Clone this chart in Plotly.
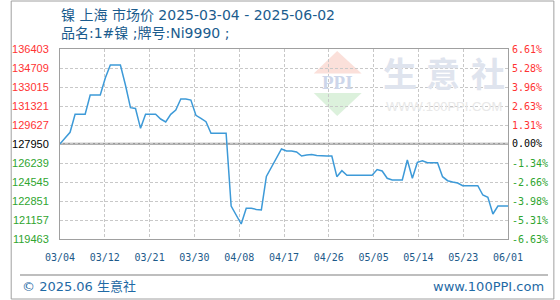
import pandas as pd
import plotly.graph_objects as go

# ---------------- data ----------------
start_date = "2025-03-04"
end_date = "2025-06-01"
dates = pd.date_range(start_date, end_date, freq="D")

prices = [
    127950, 128440, 128980, 130580, 130580, 130580, 132300, 132300, 132300, 133820,
    134980, 134980, 134980, 133190, 131170, 131100, 129330, 130580, 130580, 130580,
    130160, 129900, 130580, 130965, 131945, 131945, 131850, 130490, 130225, 129920,
    128887, 128887, 128887, 128887, 122405, 121600, 120800, 122200, 122200, 122100,
    122050, 125036, 125880, 126685, 127490, 127310, 127310, 127220, 126863, 126950,
    127000, 126910, 126863, 126863, 126863, 125018, 125553, 125142, 125142, 125142,
    125142, 125142, 125142, 125660, 125526, 124875, 124723, 124723, 124723, 126507,
    124875, 126302, 126444, 126266, 126266, 126266, 125018, 124661, 124545, 124456,
    124215, 124215, 124215, 124215, 123386, 123181, 121692, 122405, 122405, 122405,
]

x_labels = ["03/04", "03/12", "03/21", "03/30", "04/08", "04/17",
            "04/26", "05/05", "05/14", "05/23", "06/01"]
y_ticks = [136403, 134709, 133015, 131321, 129627, 127950,
           126239, 124545, 122851, 121157, 119463]
pct_labels = ["6.61%", "5.28%", "3.96%", "2.63%", "1.31%", "0.00%",
              "-1.34%", "-2.66%", "-3.98%", "-5.31%", "-6.63%"]

title1 = "镍 上海 市场价 2025-03-04 - 2025-06-02"
title2 = "品名:1#镍 ;牌号:Ni9990 ;"
footer_left = "© 2025.06 生意社"
footer_right = "www.100PPI.com"

base = prices[0]

# ---------------- geometry helpers (pixels -> paper) ----------------
W, H = 560, 300
L, R, T, B = 51, 510, 49, 239
def px(xp):
    return (xp - L) / (R - L)
def py(yp):
    return (B - yp) / (B - T)

RED, GREEN, BLACK = "#ff3333", "#2fa52f", "#000000"
def col(v):
    return RED if v > base else (GREEN if v < base else BLACK)

left_text = [f'<span style="color:{col(v)}">{v}</span>' for v in y_ticks]
right_text = [f'<span style="color:{col(v)}">{t}</span>' for v, t in zip(y_ticks, pct_labels)]

t0 = pd.Timestamp(start_date)
t1 = pd.Timestamp(end_date)
tickvals = [t0 + (t1 - t0) * k / (len(x_labels) - 1) for k in range(len(x_labels))]

fig = go.Figure()
fig.add_trace(go.Scatter(x=dates, y=prices, mode="lines",
                         line=dict(color="#3d9ad8", width=1.5),
                         hoverinfo="skip", showlegend=False))
# invisible trace for the right axis
fig.add_trace(go.Scatter(x=[dates[0]], y=[base], yaxis="y2", mode="lines",
                         line=dict(width=0), hoverinfo="skip", showlegend=False))

yr = [min(y_ticks), max(y_ticks)]
fig.update_layout(
    width=W, height=H,
    margin=dict(l=L, r=W - R, t=T, b=H - B),
    paper_bgcolor="white", plot_bgcolor="white",
    xaxis=dict(type="date", range=[t0, t1], tickvals=tickvals, ticktext=x_labels,
               showgrid=True, gridcolor="#c8c8c8", griddash="3px,2px", gridwidth=1,
               showline=True, linecolor="#a0a0a0", linewidth=1, mirror=True,
               ticks="", ticklabelstandoff=9,
               tickfont=dict(family="DejaVu Sans Mono", size=10, color="#1d5a8a"),
               zeroline=False, fixedrange=True),
    yaxis=dict(range=yr, tickvals=y_ticks, ticktext=left_text,
               showgrid=True, gridcolor="#c8c8c8", griddash="3px,2px", gridwidth=1,
               showline=True, linecolor="#a0a0a0", linewidth=1, mirror=True,
               ticks="", ticklabelstandoff=8,
               tickfont=dict(family="Liberation Sans", size=11),
               zeroline=False, fixedrange=True),
    yaxis2=dict(range=yr, tickvals=y_ticks, ticktext=right_text, overlaying="y",
                side="right", showgrid=False, showline=False, ticks="",
                ticklabelstandoff=3,
                tickfont=dict(family="DejaVu Sans Mono", size=10),
                zeroline=False, fixedrange=True),
)

shapes = []
# base (0%) line
shapes.append(dict(type="line", xref="paper", yref="y", x0=0, x1=1, y0=base, y1=base,
                   line=dict(color="#999999", width=2), layer="below"))
# outer border
shapes.append(dict(type="rect", xref="paper", yref="paper",
                   x0=px(1), x1=px(557), y0=py(1), y1=py(299),
                   line=dict(color="#a0a0a0", width=1)))
# footer separator
shapes.append(dict(type="line", xref="paper", yref="paper",
                   x0=px(10), x1=px(551), y0=py(275), y1=py(275),
                   line=dict(color="#a8a8a8", width=1.5)))
# watermark logo triangles
shapes.append(dict(type="path", xref="paper", yref="paper", layer="below",
                   path=f"M {px(335)},{py(51)} L {px(311)},{py(73.5)} L {px(360)},{py(73.5)} Z",
                   fillcolor="#fbe0da", line=dict(width=0)))
shapes.append(dict(type="path", xref="paper", yref="paper", layer="below",
                   path=f"M {px(311)},{py(93)} L {px(360)},{py(93)} L {px(335)},{py(116)} Z",
                   fillcolor="#dcf1dc", line=dict(width=0)))
fig.update_layout(shapes=shapes)

ann = []
tfont = dict(family="DejaVu Sans, Noto Sans CJK SC", size=14, color="#1b5c8e")
ann.append(dict(text=title1, x=px(50), y=py(14.5), xref="paper", yref="paper",
                xanchor="left", yanchor="middle", showarrow=False, font=tfont))
ann.append(dict(text=title2, x=px(50), y=py(33), xref="paper", yref="paper",
                xanchor="left", yanchor="middle", showarrow=False, font=tfont))
ffont = dict(family="DejaVu Sans, Noto Sans CJK SC", size=13, color="#1f6aa5")
ann.append(dict(text=footer_left, x=px(10), y=py(286), xref="paper", yref="paper",
                xanchor="left", yanchor="middle", showarrow=False, font=ffont))
ann.append(dict(text=footer_right, x=px(549), y=py(286), xref="paper", yref="paper",
                xanchor="right", yanchor="middle", showarrow=False, font=ffont))
# watermark text
ann.append(dict(text="<b>PPI</b>", x=px(335), y=py(82), xref="paper", yref="paper",
                xanchor="center", yanchor="middle", showarrow=False,
                font=dict(family="Liberation Serif", size=19, color="#cdd6ea")))
for ch, cx in zip("生意社", [399, 443, 489]):
    ann.append(dict(text=ch, x=px(cx), y=py(72), xref="paper", yref="paper",
                    xanchor="center", yanchor="middle", showarrow=False,
                    font=dict(family="Noto Sans CJK SC", size=34, color="#dfe4ee", weight="bold")))
ann.append(dict(text="WWW.100PPI.COM", x=px(444), y=py(106), xref="paper", yref="paper",
                xanchor="center", yanchor="middle", showarrow=False,
                font=dict(family="Liberation Sans", size=13, color="#e8e8e8")))
fig.update_layout(annotations=ann)

fig.write_html("out.html", config={"displayModeBar": False})
